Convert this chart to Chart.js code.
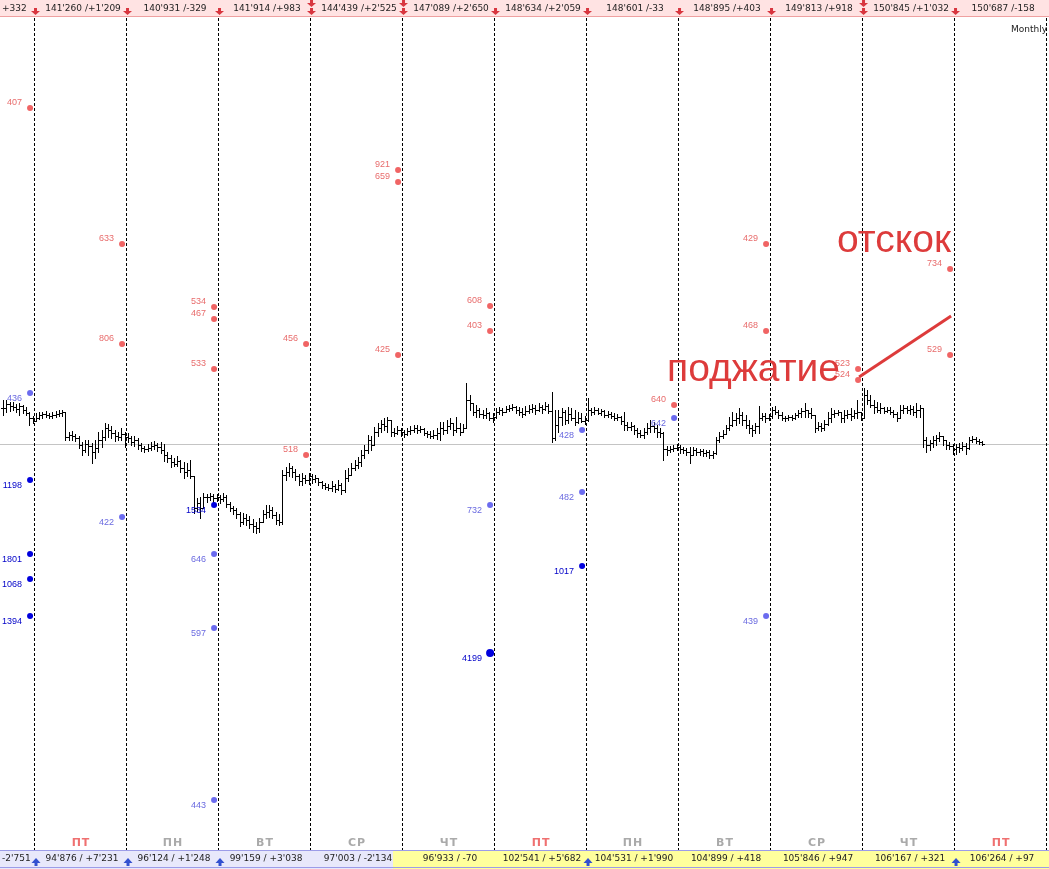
<!DOCTYPE html>
<html>
<head>
<meta charset="utf-8">
<script src="https://cdn.jsdelivr.net/npm/chart.js@4.4.0/dist/chart.umd.min.js"></script>
<style>
    html, body { margin: 0; padding: 0; background: #fff; }
    canvas { display: block; }
</style>
</head>
<body>
<canvas id="chart" width="1049" height="869"></canvas>
<script>
// price bars (hourly), 28 per session
const closes = [
    592,596,594,593,591,594,590,587,582,579, 582,585,586,585,584,585,586,587,588,563,
    565,564,562,555,550,556,554,548,552,560, 563,572,570,567,564,563,566,563,562,558,
    560,555,552,551,552,554,555,553,550,545, 542,538,536,539,532,528,530,524,492,497,
    492,503,503,504,502,503,501,503,496,492, 490,486,478,482,480,476,474,472,478,486,
    488,490,485,480,478,525,528,532,528,524, 519,522,520,524,521,522,518,515,513,512,
    514,511,515,510,522,525,532,535,538,545, 550,560,555,568,572,576,574,580,568,567,
    570,568,566,569,570,572,570,571,567,566, 564,565,567,572,570,574,577,570,572,568,
    572,600,597,588,590,586,585,587,582,583, 588,590,588,591,592,593,590,588,586,589,
    591,592,590,593,591,594,589,562,575,583, 588,580,586,582,578,582,579,580,590,588,
    590,587,589,585,586,584,582,583,579,575, 573,574,570,567,565,568,572,574,572,568,
    567,551,550,551,552,553,551,550,548,545, 550,548,549,547,548,545,547,560,564,566,
    572,575,580,582,585,580,575,572,570,574, 582,584,582,584,590,588,585,582,582,583,
    582,585,587,589,590,587,585,572,574,572, 576,582,586,587,588,582,585,586,584,587,
    588,582,605,600,595,593,590,592,589,590, 588,586,582,590,592,590,591,588,590,592,
    560,555,557,560,562,564,560,555,554,551, 553,552,554,552,560,561,559,558,556
];
const highs = [
    600,600,598,598,596,597,595,593,588,584, 587,588,588,589,587,588,589,590,590,588,
    568,569,566,564,558,560,560,557,560,568, 570,577,576,574,570,568,572,568,567,564,
    564,562,557,554,556,558,559,557,558,556, 548,545,542,544,540,538,537,540,524,502,
    503,507,506,507,506,506,505,507,505,498, 494,492,488,487,486,484,481,478,482,490,
    495,495,493,488,486,530,533,537,534,531, 526,527,525,527,526,525,522,519,517,516,
    519,516,520,517,530,532,537,540,543,550, 555,565,564,573,577,580,582,583,580,572,
    574,572,570,572,574,575,575,574,572,569, 569,570,572,578,578,580,582,577,583,577,
    576,617,605,597,595,592,590,592,588,587, 592,593,592,594,595,596,594,593,592,594,
    595,596,595,597,595,598,596,608,590,590, 592,590,593,592,590,588,587,584,602,592,
    593,592,591,590,589,588,587,586,584,588, 578,578,575,572,570,572,577,580,578,575,
    572,568,554,554,555,556,555,553,552,553, 553,552,551,551,550,550,549,563,568,570,
    575,583,588,587,592,588,585,580,575,577, 594,587,587,586,593,594,590,588,584,585,
    585,587,590,592,597,590,592,585,578,577, 580,588,592,590,590,588,590,590,592,590,
    600,588,612,610,605,600,598,597,593,593, 593,590,588,595,595,594,595,594,597,595,
    592,563,560,564,565,568,564,560,558,556, 556,557,558,557,563,564,563,561,559
];
const lows = [
    585,588,589,590,588,585,587,585,575,577, 579,581,582,583,582,582,583,584,584,560,
    560,560,559,552,545,548,545,537,542,548, 553,560,563,562,559,560,560,553,558,555,
    554,551,549,548,549,550,551,549,547,539, 538,533,534,534,528,522,524,522,487,489,
    482,492,498,500,498,499,497,499,493,489, 486,482,474,476,475,472,468,467,468,478,
    482,483,482,476,475,476,520,524,523,520, 515,515,517,516,517,518,515,512,511,510,
    509,508,510,506,508,519,525,530,532,534, 542,547,550,555,564,568,570,568,564,564,
    566,564,563,565,566,568,567,568,565,563, 562,562,561,560,566,567,571,565,568,565,
    568,572,590,585,583,583,582,582,580,578, 582,586,585,588,589,590,587,585,583,585,
    587,588,586,589,587,590,587,558,560,568, 575,576,577,580,575,577,578,576,579,585,
    586,586,585,583,583,582,580,580,576,570, 570,570,566,563,563,562,566,568,568,563,
    563,540,545,548,549,550,547,547,545,537, 545,545,545,544,544,542,542,546,558,562,
    566,570,574,575,577,575,572,567,564,567, 567,580,578,580,582,586,582,580,579,580,
    580,581,583,583,583,583,582,568,570,569, 570,575,578,583,585,578,578,582,580,582,
    582,580,582,596,593,587,588,587,587,588, 586,583,579,582,587,587,586,585,583,583,
    553,548,550,553,555,559,555,551,551,546, 546,548,550,546,551,558,557,556,555
];
const levelLine = 556;

// sessions
const dayNames = ['ПТ', 'ПН', 'ВТ', 'СР', 'ЧТ', 'ПТ', 'ПН', 'ВТ', 'СР', 'ЧТ', 'ПТ'];
const topLabels = ['141\'260 /+1\'209', '140\'931 /-329', '141\'914 /+983', '144\'439 /+2\'525', '147\'089 /+2\'650',
    '148\'634 /+2\'059', '148\'601 /-33', '148\'895 /+403', '149\'813 /+918', '150\'845 /+1\'032', '150\'687 /-158'];
const topFirst = '+332';
const bottomLabels = ['94\'876 / +7\'231', '96\'124 / +1\'248', '99\'159 / +3\'038', '97\'003 / -2\'134', '96\'933 / -70',
    '102\'541 / +5\'682', '104\'531 / +1\'990', '104\'899 / +418', '105\'846 / +947', '106\'167 / +321', '106\'264 / +97'];
const bottomFirst = '-2\'751';
const downArrowDays = [0, 1, 2, 3, 4, 5, 6, 7, 8, 9, 10];
const doubleArrowDays = [3, 4, 9];
const upArrowDays = [0, 1, 2, 6, 10];

// volume levels at session ends
const redDays = [0, 1, 1, 2, 2, 2, 3, 3, 4, 4, 4, 5, 5, 7, 8, 8, 9, 9, 10, 10];
const redValues = [892, 756, 656, 693, 681, 631, 656, 545, 830, 818, 645, 694, 669, 595, 756, 669, 631, 620, 731, 645];
const redLabels = ['407', '633', '806', '534', '467', '533', '456', '518', '921', '659', '425', '608', '403', '640', '429', '468', '523', '524', '734', '529'];

const blueDays = [0, 1, 2, 2, 2, 5, 6, 6, 7, 8];
const blueValues = [607, 483, 446, 372, 200, 495, 570, 508, 582, 384];
const blueLabels = ['436', '422', '646', '597', '443', '732', '428', '482', '642', '439'];

const navyDays = [0, 0, 0, 0, 2, 5, 6];
const navyValues = [520, 446, 421, 384, 495, 347, 434];
const navyLabels = ['1198', '1801', '1068', '1394', '1534', '4199', '1017'];

const barsPerDay = 28;
const firstBoundary = 9.45;
const boundary = k => firstBoundary + barsPerDay * k;
const dotX = k => boundary(k) - 1.2;

const squeezeLine = [{ x: dotX(9) + 0.3, y: 623 }, { x: boundary(10) - 0.9, y: 684 }];

function points(days, values) {
    return days.map((d, i) => ({ x: dotX(d), y: values[i] }));
}

const font = '"Liberation Sans", Arial, sans-serif';
const bandFont = '9px "DejaVu Sans", sans-serif';

const drawPlugin = {
    id: 'drawPlugin',
    beforeDatasetsDraw(chart) {
        const { ctx, chartArea: a, scales: { x, y } } = chart;
        ctx.save();
        ctx.fillStyle = '#c4c4c4';
        ctx.fillRect(a.left, Math.round(y.getPixelForValue(levelLine)), a.right - a.left, 1);

        ctx.strokeStyle = '#000';
        ctx.lineWidth = 1;
        ctx.setLineDash([3, 2]);
        for (let k = 0; k < 12; k++) {
            const px = Math.round(x.getPixelForValue(boundary(k))) + 0.5;
            ctx.beginPath();
            ctx.moveTo(px, a.top);
            ctx.lineTo(px, a.bottom);
            ctx.stroke();
        }
        ctx.setLineDash([]);

        ctx.fillStyle = '#000';
        closes.forEach((c, i) => {
            const px = Math.round(x.getPixelForValue(i));
            const hy = Math.round(y.getPixelForValue(highs[i]));
            const ly = Math.round(y.getPixelForValue(lows[i]));
            const oy = Math.round(y.getPixelForValue(i > 0 ? closes[i - 1] : c));
            const cy = Math.round(y.getPixelForValue(c));
            ctx.fillRect(px, hy, 1, ly - hy + 1);
            ctx.fillRect(px - 2, oy, 2, 1);
            ctx.fillRect(px + 1, cy, 2, 1);
        });
        ctx.restore();
    },
    afterDatasetsDraw(chart) {
        const { ctx, scales: { x, y } } = chart;
        ctx.save();
        ctx.font = '9px ' + font;
        ctx.textAlign = 'right';
        ctx.textBaseline = 'middle';
        chart.data.datasets.forEach((ds, di) => {
            if (!ds.labels) return;
            const meta = chart.getDatasetMeta(di);
            ctx.fillStyle = ds.labelColor;
            meta.data.forEach((pt, j) => {
                ctx.fillText(ds.labels[j], pt.x - 8, pt.y + ds.labelDy);
            });
        });

        ctx.fillStyle = '#dd3b3b';
        ctx.font = '39px ' + font;
        ctx.textBaseline = 'alphabetic';
        ctx.textAlign = 'right';
        ctx.fillText('поджатие', x.getPixelForValue(boundary(9)) - 22, y.getPixelForValue(619));
        ctx.textAlign = 'left';
        ctx.fillText('отскок', x.getPixelForValue(boundary(9)) - 25, y.getPixelForValue(748));
        ctx.restore();
    },
    afterDraw(chart) {
        const { ctx, width, height, scales: { x } } = chart;
        ctx.save();
        // top band
        ctx.fillStyle = '#ffe3e3';
        ctx.fillRect(0, 0, width, 17);
        ctx.fillStyle = '#efa0a0';
        ctx.fillRect(0, 16, width, 1);
        ctx.font = bandFont;
        ctx.textBaseline = 'middle';
        ctx.fillStyle = '#222';
        ctx.textAlign = 'left';
        ctx.fillText(topFirst, 2, 9);
        ctx.textAlign = 'center';
        topLabels.forEach((t, k) => {
            ctx.fillText(t, x.getPixelForValue(boundary(k) + barsPerDay / 2) + 3, 9);
        });
        ctx.fillStyle = '#d8363f';
        const downArrow = (cx, cy) => {
            ctx.fillRect(cx - 1.5, cy - 4, 3, 3);
            ctx.beginPath();
            ctx.moveTo(cx - 4.5, cy - 1);
            ctx.lineTo(cx + 4.5, cy - 1);
            ctx.lineTo(cx, cy + 3);
            ctx.closePath();
            ctx.fill();
        };
        downArrowDays.forEach(k => {
            const px = x.getPixelForValue(boundary(k)) + 1.5;
            if (doubleArrowDays.includes(k)) {
                downArrow(px, 4);
                downArrow(px, 12);
            } else {
                downArrow(px, 12);
            }
        });

        ctx.fillStyle = '#222';
        ctx.font = bandFont;
        ctx.textAlign = 'right';
        ctx.fillText('Monthly', 1047, 30);

        // day names
        ctx.font = 'bold 11px "DejaVu Sans", sans-serif';
        ctx.textAlign = 'center';
        ctx.letterSpacing = '1px';
        dayNames.forEach((d, k) => {
            ctx.fillStyle = d === 'ПТ' ? '#ef7070' : '#aaaaaa';
            ctx.fillText(d, x.getPixelForValue(boundary(k) + barsPerDay / 2) + 1, 843);
        });
        ctx.letterSpacing = '0px';

        // bottom band
        const split = Math.round(x.getPixelForValue(boundary(4))) - 9;
        ctx.fillStyle = '#e8e8fb';
        ctx.fillRect(0, 850, split, height - 850);
        ctx.fillStyle = '#ffff9c';
        ctx.fillRect(split, 850, width - split, height - 850);
        ctx.fillStyle = '#9c9ce8';
        ctx.fillRect(0, 850, width, 1);
        ctx.fillRect(0, height - 2, width, 1);
        ctx.fillStyle = '#222';
        ctx.font = bandFont;
        ctx.textAlign = 'left';
        ctx.fillText(bottomFirst, 2, 859);
        ctx.textAlign = 'center';
        bottomLabels.forEach((t, k) => {
            ctx.fillText(t, x.getPixelForValue(boundary(k) + barsPerDay / 2) + 2, 859);
        });
        ctx.fillStyle = '#3350d0';
        upArrowDays.forEach(k => {
            const px = x.getPixelForValue(boundary(k)) + 2;
            ctx.beginPath();
            ctx.moveTo(px - 4.5, 863);
            ctx.lineTo(px + 4.5, 863);
            ctx.lineTo(px, 858);
            ctx.closePath();
            ctx.fill();
            ctx.fillRect(px - 1.5, 863, 3, 3);
        });
        ctx.restore();
    }
};

new Chart(document.getElementById('chart'), {
    type: 'scatter',
    data: {
        datasets: [
            {
                data: squeezeLine,
                showLine: true,
                borderColor: '#dd3b3b',
                borderWidth: 3,
                pointRadius: 0
            },
            {
                data: points(redDays, redValues),
                labels: redLabels,
                labelColor: '#e86c6c',
                labelDy: -5,
                backgroundColor: '#f06464',
                pointRadius: 3,
                pointBorderWidth: 0
            },
            {
                data: points(blueDays, blueValues),
                labels: blueLabels,
                labelColor: '#6a6ae0',
                labelDy: 6,
                backgroundColor: '#6b6bef',
                pointRadius: 3,
                pointBorderWidth: 0
            },
            {
                data: points(navyDays, navyValues),
                labels: navyLabels,
                labelColor: '#0000c8',
                labelDy: 6,
                backgroundColor: '#0000dd',
                pointRadius: c => navyLabels[c.dataIndex] === '4199' ? 4 : 3,
                pointBorderWidth: 0
            }
        ]
    },
    options: {
        responsive: false,
        animation: false,
        devicePixelRatio: 1,
        layout: { autoPadding: false, padding: { top: 18, bottom: 19, left: 0, right: 0 } },
        plugins: { legend: { display: false }, tooltip: { enabled: false } },
        scales: {
            x: { type: 'linear', min: -0.9, max: 318.35, display: false },
            y: { min: 150, max: 982, display: false }
        }
    },
    plugins: [drawPlugin]
});
</script>
</body>
</html>
